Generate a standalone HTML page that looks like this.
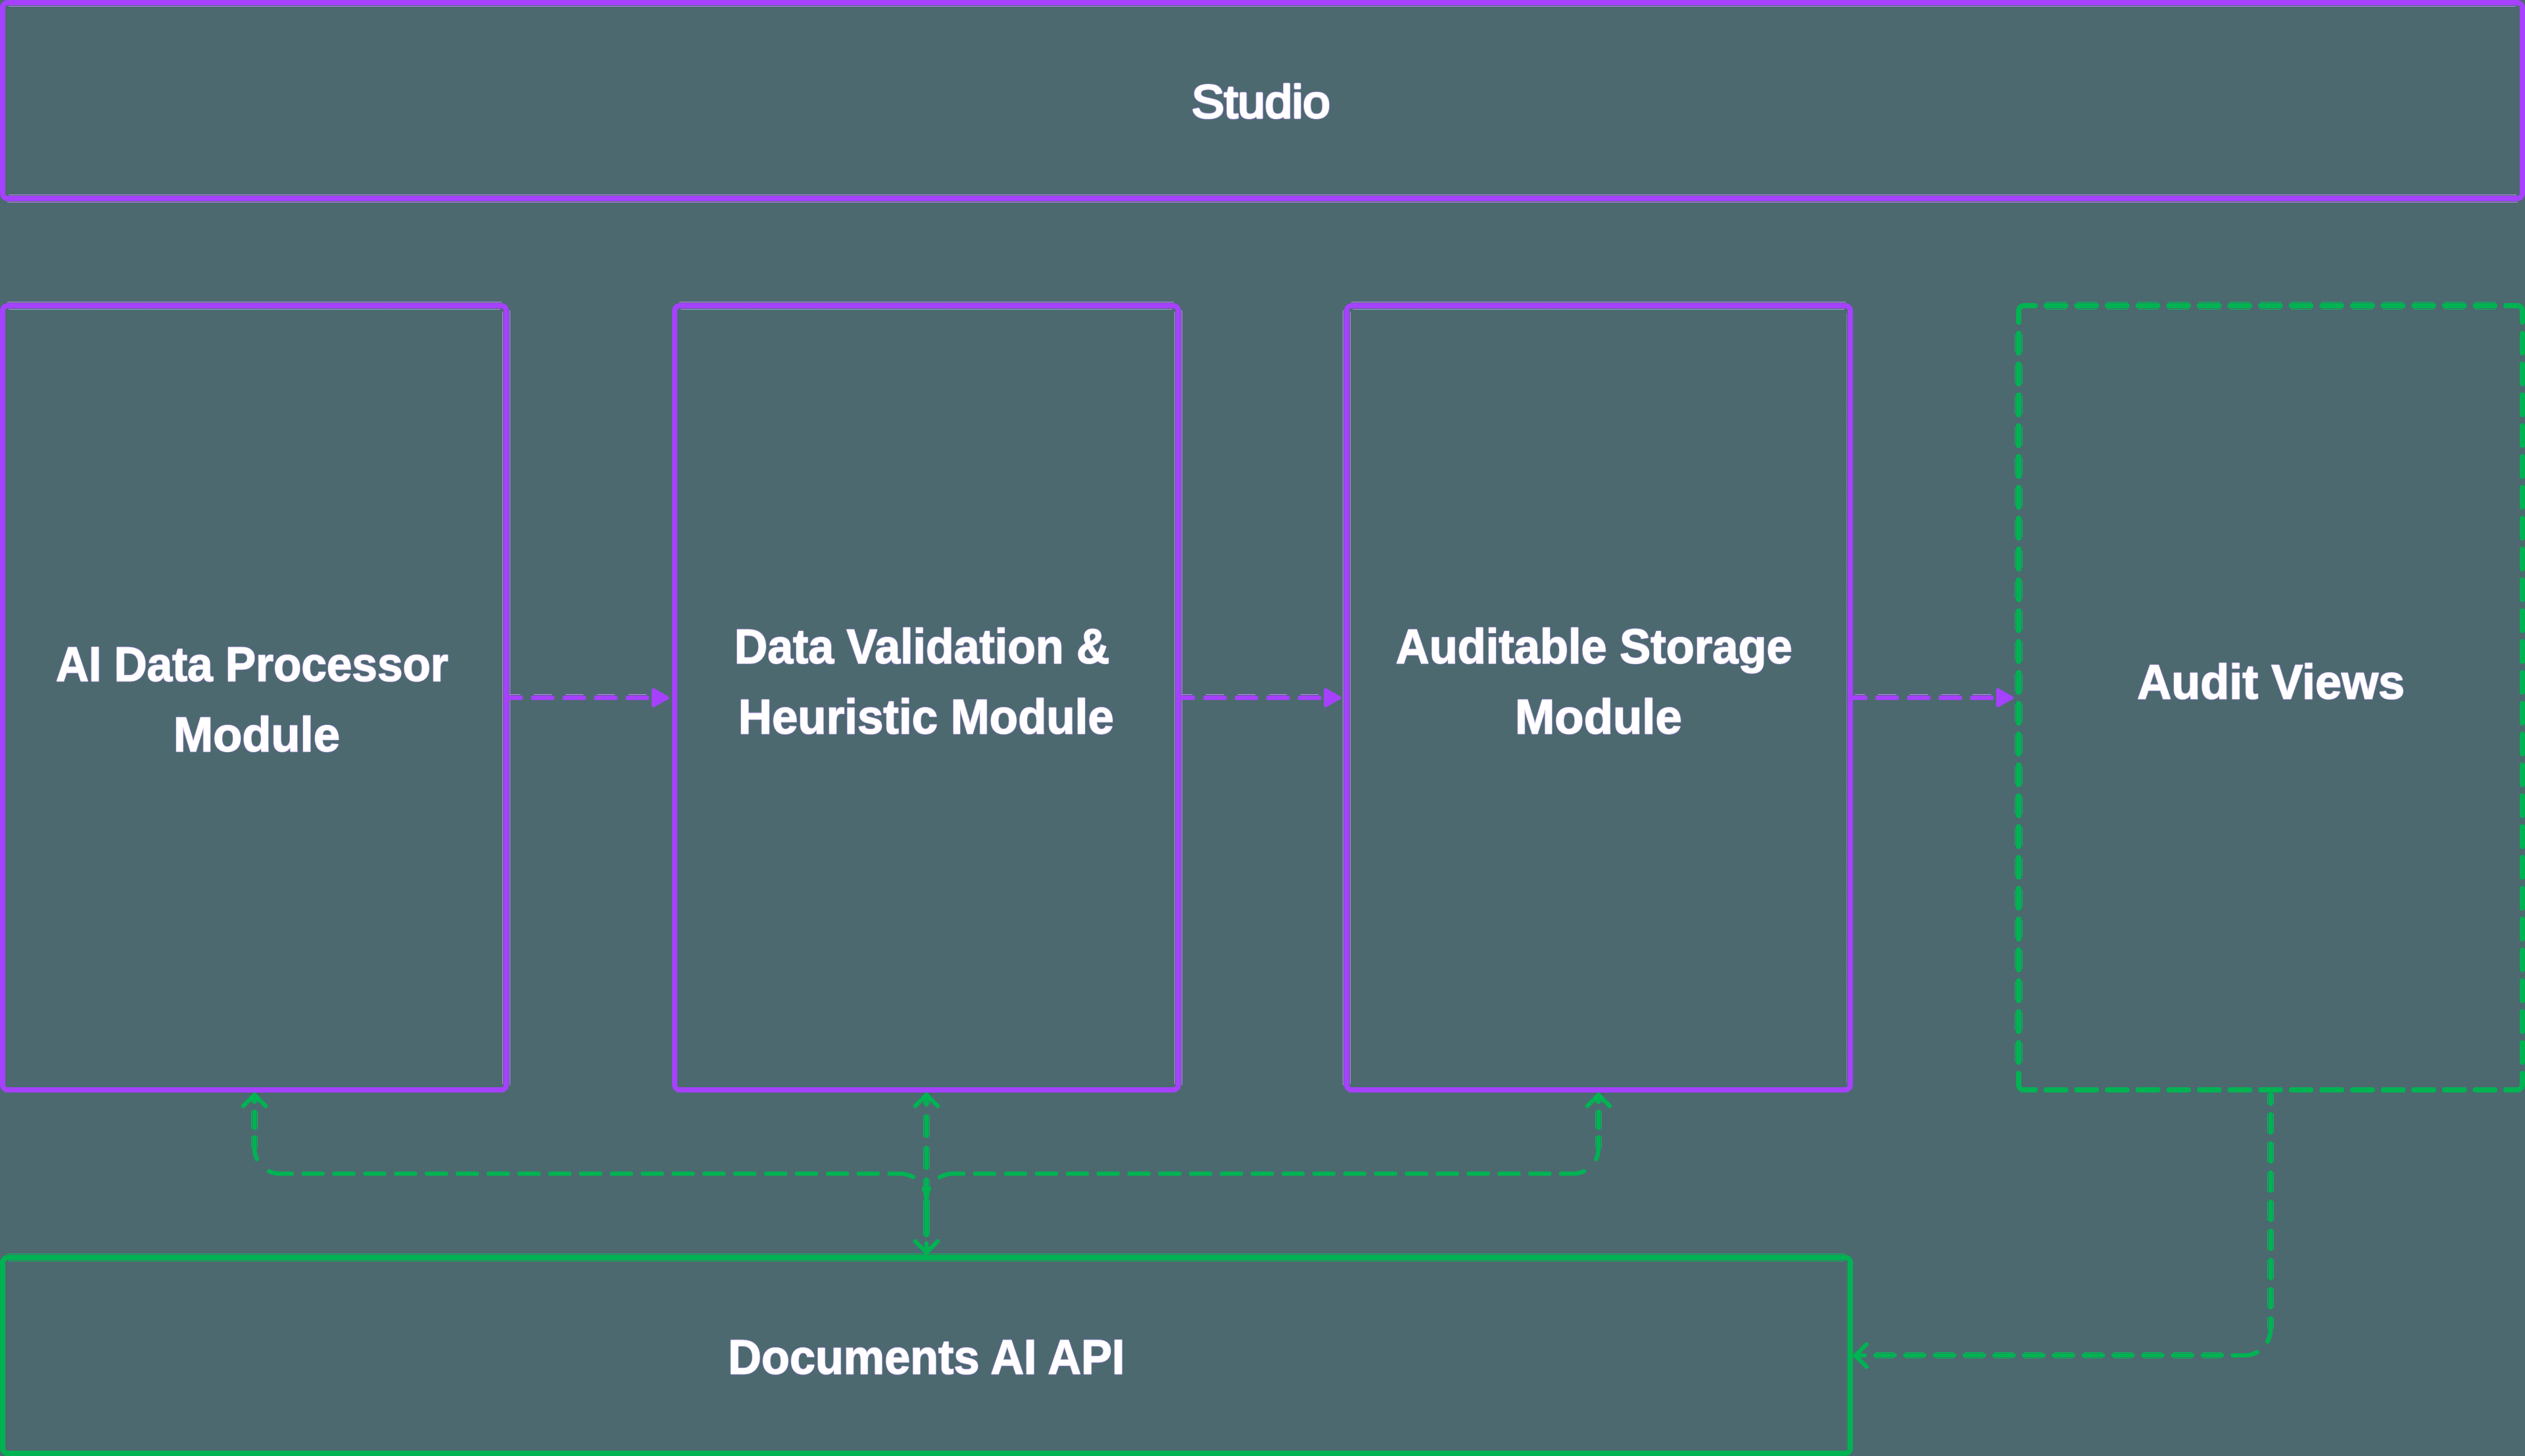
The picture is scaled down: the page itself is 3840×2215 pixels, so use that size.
<!DOCTYPE html>
<html lang="en">
<head>
<meta charset="utf-8">
<title>Architecture diagram</title>
<style>
html,body{margin:0;padding:0;background:#4C6970;}
body{width:3840px;height:2215px;overflow:hidden;position:relative;font-family:"Liberation Sans",sans-serif;}
svg{position:absolute;left:0;top:0;display:block;}
text{font-family:"Liberation Sans",sans-serif;font-size:75px;fill:#fff;}
</style>
</head>
<body>
<svg width="3840" height="2215" viewBox="0 0 3840 2215">
<rect x="0" y="0" width="3840" height="2215" fill="#4C6970"/>
<rect x="4.0" y="4.0" width="3832" height="298" rx="8" ry="8" fill="none" stroke="#A541FF" stroke-width="8"/>
<rect x="4.0" y="465.0" width="766" height="1193" rx="8" ry="8" fill="none" stroke="#A541FF" stroke-width="8"/>
<rect x="1026.0" y="465.0" width="766" height="1193" rx="8" ry="8" fill="none" stroke="#A541FF" stroke-width="8"/>
<rect x="2048.0" y="465.0" width="766" height="1193" rx="8" ry="8" fill="none" stroke="#A541FF" stroke-width="8"/>
<rect x="4.0" y="1913.0" width="2810" height="298" rx="8" ry="8" fill="none" stroke="#00B352" stroke-width="8"/>
<path d="M13,9.5 H3826" stroke="#C283FF" stroke-width="1" />
<path d="M13,296.5 H3827" stroke="#C283FF" stroke-width="1" />
<path d="M11,307.5 H3829" stroke="#C283FF" stroke-width="1" />
<path d="M11,459.5 H763" stroke="#C283FF" stroke-width="1" />
<path d="M13,470.5 H761" stroke="#C283FF" stroke-width="1" />
<path d="M18,471.5 H757" stroke="#00B352" stroke-width="1" stroke-dasharray="1 2 1 1"/>
<path d="M1033,459.5 H1785" stroke="#C283FF" stroke-width="1" />
<path d="M1035,470.5 H1783" stroke="#C283FF" stroke-width="1" />
<path d="M1040,471.5 H1779" stroke="#00B352" stroke-width="1" stroke-dasharray="1 2 1 1"/>
<path d="M2055,459.5 H2807" stroke="#C283FF" stroke-width="1" />
<path d="M2057,470.5 H2805" stroke="#C283FF" stroke-width="1" />
<path d="M2062,471.5 H2801" stroke="#00B352" stroke-width="1" stroke-dasharray="1 2 1 1"/>
<path d="M764.5,474 V1649" stroke="#C283FF" stroke-width="1" />
<path d="M1786.5,474 V1649" stroke="#C283FF" stroke-width="1" />
<path d="M2053.5,474 V1649" stroke="#C283FF" stroke-width="1" />
<path d="M775.5,472 V1651" stroke="#C283FF" stroke-width="1" />
<path d="M1797.5,472 V1651" stroke="#C283FF" stroke-width="1" />
<path d="M2042.5,472 V1651" stroke="#C283FF" stroke-width="1" />
<path d="M2808.5,477 V1649" stroke="#C283FF" stroke-width="1" stroke-dasharray="1 1"/>
<path d="M11,1907.5 H2807" stroke="#00BE56" stroke-width="1" />
<path d="M13,1918.5 H2805" stroke="#00BE56" stroke-width="1" />
<path d="M2808.5,1922 V2203" stroke="#00BE56" stroke-width="1" stroke-dasharray="1 1"/>
<path d="M3070.0,489.9 V473.0 A8,8 0 0 1 3078.0,465.0 H3094.9" fill="none" stroke="#00B352" stroke-width="8" stroke-linecap="round"/>
<path d="M3836.0,489.9 V473.0 A8,8 0 0 0 3828.0,465.0 H3811.1" fill="none" stroke="#00B352" stroke-width="8" stroke-linecap="round"/>
<path d="M3836.0,1633.1 V1650.0 A8,8 0 0 1 3828.0,1658.0 H3811.1" fill="none" stroke="#00B352" stroke-width="8" stroke-linecap="round"/>
<path d="M3070.0,1633.1 V1650.0 A8,8 0 0 0 3078.0,1658.0 H3094.9" fill="none" stroke="#00B352" stroke-width="8" stroke-linecap="round"/>
<path d="M3111.91,465.0 H3141.51" stroke="#00B352" stroke-width="8" stroke-linecap="round"/>
<path d="M3111,459.5 H3143" stroke="#00BE56" stroke-width="1" />
<path d="M3111,470.5 H3143" stroke="#00BE56" stroke-width="1" />
<path d="M3158.53,465.0 H3188.12" stroke="#00B352" stroke-width="8" stroke-linecap="round"/>
<path d="M3158,459.5 H3189" stroke="#00BE56" stroke-width="1" />
<path d="M3158,470.5 H3189" stroke="#00BE56" stroke-width="1" />
<path d="M3205.14,465.0 H3234.74" stroke="#00B352" stroke-width="8" stroke-linecap="round"/>
<path d="M3204,459.5 H3236" stroke="#00BE56" stroke-width="1" />
<path d="M3204,470.5 H3236" stroke="#00BE56" stroke-width="1" />
<path d="M3251.75,465.0 H3281.35" stroke="#00B352" stroke-width="8" stroke-linecap="round"/>
<path d="M3251,459.5 H3282" stroke="#00BE56" stroke-width="1" />
<path d="M3251,470.5 H3282" stroke="#00BE56" stroke-width="1" />
<path d="M3298.36,465.0 H3327.96" stroke="#00B352" stroke-width="8" stroke-linecap="round"/>
<path d="M3297,459.5 H3329" stroke="#00BE56" stroke-width="1" />
<path d="M3297,470.5 H3329" stroke="#00BE56" stroke-width="1" />
<path d="M3344.97,465.0 H3374.57" stroke="#00B352" stroke-width="8" stroke-linecap="round"/>
<path d="M3344,459.5 H3376" stroke="#00BE56" stroke-width="1" />
<path d="M3344,470.5 H3376" stroke="#00BE56" stroke-width="1" />
<path d="M3391.59,465.0 H3421.19" stroke="#00B352" stroke-width="8" stroke-linecap="round"/>
<path d="M3391,459.5 H3422" stroke="#00BE56" stroke-width="1" />
<path d="M3391,470.5 H3422" stroke="#00BE56" stroke-width="1" />
<path d="M3438.20,465.0 H3467.80" stroke="#00B352" stroke-width="8" stroke-linecap="round"/>
<path d="M3437,459.5 H3469" stroke="#00BE56" stroke-width="1" />
<path d="M3437,470.5 H3469" stroke="#00BE56" stroke-width="1" />
<path d="M3484.81,465.0 H3514.41" stroke="#00B352" stroke-width="8" stroke-linecap="round"/>
<path d="M3484,459.5 H3515" stroke="#00BE56" stroke-width="1" />
<path d="M3484,470.5 H3515" stroke="#00BE56" stroke-width="1" />
<path d="M3531.42,465.0 H3561.02" stroke="#00B352" stroke-width="8" stroke-linecap="round"/>
<path d="M3530,459.5 H3562" stroke="#00BE56" stroke-width="1" />
<path d="M3530,470.5 H3562" stroke="#00BE56" stroke-width="1" />
<path d="M3578.04,465.0 H3607.64" stroke="#00B352" stroke-width="8" stroke-linecap="round"/>
<path d="M3577,459.5 H3609" stroke="#00BE56" stroke-width="1" />
<path d="M3577,470.5 H3609" stroke="#00BE56" stroke-width="1" />
<path d="M3624.65,465.0 H3654.25" stroke="#00B352" stroke-width="8" stroke-linecap="round"/>
<path d="M3624,459.5 H3655" stroke="#00BE56" stroke-width="1" />
<path d="M3624,470.5 H3655" stroke="#00BE56" stroke-width="1" />
<path d="M3671.26,465.0 H3700.86" stroke="#00B352" stroke-width="8" stroke-linecap="round"/>
<path d="M3670,459.5 H3702" stroke="#00BE56" stroke-width="1" />
<path d="M3670,470.5 H3702" stroke="#00BE56" stroke-width="1" />
<path d="M3717.88,465.0 H3747.47" stroke="#00B352" stroke-width="8" stroke-linecap="round"/>
<path d="M3717,459.5 H3748" stroke="#00BE56" stroke-width="1" />
<path d="M3717,470.5 H3748" stroke="#00BE56" stroke-width="1" />
<path d="M3764.49,465.0 H3794.09" stroke="#00B352" stroke-width="8" stroke-linecap="round"/>
<path d="M3763,459.5 H3795" stroke="#00BE56" stroke-width="1" />
<path d="M3763,470.5 H3795" stroke="#00BE56" stroke-width="1" />
<path d="M3111.91,1658.0 H3141.51" stroke="#00B352" stroke-width="8" stroke-linecap="round"/>
<path d="M3158.53,1658.0 H3188.12" stroke="#00B352" stroke-width="8" stroke-linecap="round"/>
<path d="M3205.14,1658.0 H3234.74" stroke="#00B352" stroke-width="8" stroke-linecap="round"/>
<path d="M3251.75,1658.0 H3281.35" stroke="#00B352" stroke-width="8" stroke-linecap="round"/>
<path d="M3298.36,1658.0 H3327.96" stroke="#00B352" stroke-width="8" stroke-linecap="round"/>
<path d="M3344.97,1658.0 H3374.57" stroke="#00B352" stroke-width="8" stroke-linecap="round"/>
<path d="M3391.59,1658.0 H3421.19" stroke="#00B352" stroke-width="8" stroke-linecap="round"/>
<path d="M3438.20,1658.0 H3467.80" stroke="#00B352" stroke-width="8" stroke-linecap="round"/>
<path d="M3484.81,1658.0 H3514.41" stroke="#00B352" stroke-width="8" stroke-linecap="round"/>
<path d="M3531.42,1658.0 H3561.02" stroke="#00B352" stroke-width="8" stroke-linecap="round"/>
<path d="M3578.04,1658.0 H3607.64" stroke="#00B352" stroke-width="8" stroke-linecap="round"/>
<path d="M3624.65,1658.0 H3654.25" stroke="#00B352" stroke-width="8" stroke-linecap="round"/>
<path d="M3671.26,1658.0 H3700.86" stroke="#00B352" stroke-width="8" stroke-linecap="round"/>
<path d="M3717.88,1658.0 H3747.47" stroke="#00B352" stroke-width="8" stroke-linecap="round"/>
<path d="M3764.49,1658.0 H3794.09" stroke="#00B352" stroke-width="8" stroke-linecap="round"/>
<path d="M3070.0,507.21 V536.81" stroke="#00B352" stroke-width="8" stroke-linecap="round"/>
<path d="M3064.5,508 V536" stroke="#00BE56" stroke-width="1" />
<path d="M3075.5,508 V536" stroke="#00BE56" stroke-width="1" />
<path d="M3070.0,554.12 V583.72" stroke="#00B352" stroke-width="8" stroke-linecap="round"/>
<path d="M3064.5,555 V583" stroke="#00BE56" stroke-width="1" />
<path d="M3075.5,555 V583" stroke="#00BE56" stroke-width="1" />
<path d="M3070.0,601.04 V630.64" stroke="#00B352" stroke-width="8" stroke-linecap="round"/>
<path d="M3064.5,602 V630" stroke="#00BE56" stroke-width="1" />
<path d="M3075.5,602 V630" stroke="#00BE56" stroke-width="1" />
<path d="M3070.0,647.95 V677.55" stroke="#00B352" stroke-width="8" stroke-linecap="round"/>
<path d="M3064.5,649 V677" stroke="#00BE56" stroke-width="1" />
<path d="M3075.5,649 V677" stroke="#00BE56" stroke-width="1" />
<path d="M3070.0,694.86 V724.46" stroke="#00B352" stroke-width="8" stroke-linecap="round"/>
<path d="M3064.5,696 V723" stroke="#00BE56" stroke-width="1" />
<path d="M3075.5,696 V723" stroke="#00BE56" stroke-width="1" />
<path d="M3070.0,741.77 V771.37" stroke="#00B352" stroke-width="8" stroke-linecap="round"/>
<path d="M3064.5,743 V770" stroke="#00BE56" stroke-width="1" />
<path d="M3075.5,743 V770" stroke="#00BE56" stroke-width="1" />
<path d="M3070.0,788.68 V818.28" stroke="#00B352" stroke-width="8" stroke-linecap="round"/>
<path d="M3064.5,790 V817" stroke="#00BE56" stroke-width="1" />
<path d="M3075.5,790 V817" stroke="#00BE56" stroke-width="1" />
<path d="M3070.0,835.60 V865.20" stroke="#00B352" stroke-width="8" stroke-linecap="round"/>
<path d="M3064.5,837 V864" stroke="#00BE56" stroke-width="1" />
<path d="M3075.5,837 V864" stroke="#00BE56" stroke-width="1" />
<path d="M3070.0,882.51 V912.11" stroke="#00B352" stroke-width="8" stroke-linecap="round"/>
<path d="M3064.5,884 V911" stroke="#00BE56" stroke-width="1" />
<path d="M3075.5,884 V911" stroke="#00BE56" stroke-width="1" />
<path d="M3070.0,929.42 V959.02" stroke="#00B352" stroke-width="8" stroke-linecap="round"/>
<path d="M3064.5,930 V958" stroke="#00BE56" stroke-width="1" />
<path d="M3075.5,930 V958" stroke="#00BE56" stroke-width="1" />
<path d="M3070.0,976.33 V1005.93" stroke="#00B352" stroke-width="8" stroke-linecap="round"/>
<path d="M3064.5,977 V1005" stroke="#00BE56" stroke-width="1" />
<path d="M3075.5,977 V1005" stroke="#00BE56" stroke-width="1" />
<path d="M3070.0,1023.24 V1052.84" stroke="#00B352" stroke-width="8" stroke-linecap="round"/>
<path d="M3064.5,1024 V1052" stroke="#00BE56" stroke-width="1" />
<path d="M3075.5,1024 V1052" stroke="#00BE56" stroke-width="1" />
<path d="M3070.0,1070.16 V1099.76" stroke="#00B352" stroke-width="8" stroke-linecap="round"/>
<path d="M3064.5,1071 V1099" stroke="#00BE56" stroke-width="1" />
<path d="M3075.5,1071 V1099" stroke="#00BE56" stroke-width="1" />
<path d="M3070.0,1117.07 V1146.67" stroke="#00B352" stroke-width="8" stroke-linecap="round"/>
<path d="M3064.5,1118 V1146" stroke="#00BE56" stroke-width="1" />
<path d="M3075.5,1118 V1146" stroke="#00BE56" stroke-width="1" />
<path d="M3070.0,1163.98 V1193.58" stroke="#00B352" stroke-width="8" stroke-linecap="round"/>
<path d="M3064.5,1165 V1193" stroke="#00BE56" stroke-width="1" />
<path d="M3075.5,1165 V1193" stroke="#00BE56" stroke-width="1" />
<path d="M3070.0,1210.89 V1240.49" stroke="#00B352" stroke-width="8" stroke-linecap="round"/>
<path d="M3064.5,1212 V1239" stroke="#00BE56" stroke-width="1" />
<path d="M3075.5,1212 V1239" stroke="#00BE56" stroke-width="1" />
<path d="M3070.0,1257.80 V1287.40" stroke="#00B352" stroke-width="8" stroke-linecap="round"/>
<path d="M3064.5,1259 V1286" stroke="#00BE56" stroke-width="1" />
<path d="M3075.5,1259 V1286" stroke="#00BE56" stroke-width="1" />
<path d="M3070.0,1304.72 V1334.32" stroke="#00B352" stroke-width="8" stroke-linecap="round"/>
<path d="M3064.5,1306 V1333" stroke="#00BE56" stroke-width="1" />
<path d="M3075.5,1306 V1333" stroke="#00BE56" stroke-width="1" />
<path d="M3070.0,1351.63 V1381.23" stroke="#00B352" stroke-width="8" stroke-linecap="round"/>
<path d="M3064.5,1353 V1380" stroke="#00BE56" stroke-width="1" />
<path d="M3075.5,1353 V1380" stroke="#00BE56" stroke-width="1" />
<path d="M3070.0,1398.54 V1428.14" stroke="#00B352" stroke-width="8" stroke-linecap="round"/>
<path d="M3064.5,1400 V1427" stroke="#00BE56" stroke-width="1" />
<path d="M3075.5,1400 V1427" stroke="#00BE56" stroke-width="1" />
<path d="M3070.0,1445.45 V1475.05" stroke="#00B352" stroke-width="8" stroke-linecap="round"/>
<path d="M3064.5,1446 V1474" stroke="#00BE56" stroke-width="1" />
<path d="M3075.5,1446 V1474" stroke="#00BE56" stroke-width="1" />
<path d="M3070.0,1492.36 V1521.96" stroke="#00B352" stroke-width="8" stroke-linecap="round"/>
<path d="M3064.5,1493 V1521" stroke="#00BE56" stroke-width="1" />
<path d="M3075.5,1493 V1521" stroke="#00BE56" stroke-width="1" />
<path d="M3070.0,1539.28 V1568.88" stroke="#00B352" stroke-width="8" stroke-linecap="round"/>
<path d="M3064.5,1540 V1568" stroke="#00BE56" stroke-width="1" />
<path d="M3075.5,1540 V1568" stroke="#00BE56" stroke-width="1" />
<path d="M3070.0,1586.19 V1615.79" stroke="#00B352" stroke-width="8" stroke-linecap="round"/>
<path d="M3064.5,1587 V1615" stroke="#00BE56" stroke-width="1" />
<path d="M3075.5,1587 V1615" stroke="#00BE56" stroke-width="1" />
<path d="M3836.0,507.21 V536.81" stroke="#00B352" stroke-width="8" stroke-linecap="round"/>
<path d="M3836.0,554.12 V583.72" stroke="#00B352" stroke-width="8" stroke-linecap="round"/>
<path d="M3836.0,601.04 V630.64" stroke="#00B352" stroke-width="8" stroke-linecap="round"/>
<path d="M3836.0,647.95 V677.55" stroke="#00B352" stroke-width="8" stroke-linecap="round"/>
<path d="M3836.0,694.86 V724.46" stroke="#00B352" stroke-width="8" stroke-linecap="round"/>
<path d="M3836.0,741.77 V771.37" stroke="#00B352" stroke-width="8" stroke-linecap="round"/>
<path d="M3836.0,788.68 V818.28" stroke="#00B352" stroke-width="8" stroke-linecap="round"/>
<path d="M3836.0,835.60 V865.20" stroke="#00B352" stroke-width="8" stroke-linecap="round"/>
<path d="M3836.0,882.51 V912.11" stroke="#00B352" stroke-width="8" stroke-linecap="round"/>
<path d="M3836.0,929.42 V959.02" stroke="#00B352" stroke-width="8" stroke-linecap="round"/>
<path d="M3836.0,976.33 V1005.93" stroke="#00B352" stroke-width="8" stroke-linecap="round"/>
<path d="M3836.0,1023.24 V1052.84" stroke="#00B352" stroke-width="8" stroke-linecap="round"/>
<path d="M3836.0,1070.16 V1099.76" stroke="#00B352" stroke-width="8" stroke-linecap="round"/>
<path d="M3836.0,1117.07 V1146.67" stroke="#00B352" stroke-width="8" stroke-linecap="round"/>
<path d="M3836.0,1163.98 V1193.58" stroke="#00B352" stroke-width="8" stroke-linecap="round"/>
<path d="M3836.0,1210.89 V1240.49" stroke="#00B352" stroke-width="8" stroke-linecap="round"/>
<path d="M3836.0,1257.80 V1287.40" stroke="#00B352" stroke-width="8" stroke-linecap="round"/>
<path d="M3836.0,1304.72 V1334.32" stroke="#00B352" stroke-width="8" stroke-linecap="round"/>
<path d="M3836.0,1351.63 V1381.23" stroke="#00B352" stroke-width="8" stroke-linecap="round"/>
<path d="M3836.0,1398.54 V1428.14" stroke="#00B352" stroke-width="8" stroke-linecap="round"/>
<path d="M3836.0,1445.45 V1475.05" stroke="#00B352" stroke-width="8" stroke-linecap="round"/>
<path d="M3836.0,1492.36 V1521.96" stroke="#00B352" stroke-width="8" stroke-linecap="round"/>
<path d="M3836.0,1539.28 V1568.88" stroke="#00B352" stroke-width="8" stroke-linecap="round"/>
<path d="M3836.0,1586.19 V1615.79" stroke="#00B352" stroke-width="8" stroke-linecap="round"/>
<path d="M771.0,1061.5 H791.8" stroke="#A541FF" stroke-width="7" stroke-linecap="round"/>
<path d="M776,1056.5 H791" stroke="#C283FF" stroke-width="1" />
<path d="M810.8,1061.5 H839.8" stroke="#A541FF" stroke-width="7" stroke-linecap="round"/>
<path d="M812,1056.5 H839" stroke="#C283FF" stroke-width="1" />
<path d="M858.8,1061.5 H887.8" stroke="#A541FF" stroke-width="7" stroke-linecap="round"/>
<path d="M860,1056.5 H887" stroke="#C283FF" stroke-width="1" />
<path d="M906.8,1061.5 H935.8" stroke="#A541FF" stroke-width="7" stroke-linecap="round"/>
<path d="M908,1056.5 H935" stroke="#C283FF" stroke-width="1" />
<path d="M954.8,1061.5 H983.8" stroke="#A541FF" stroke-width="7" stroke-linecap="round"/>
<path d="M956,1056.5 H983" stroke="#C283FF" stroke-width="1" />
<path d="M993.5,1049.5 L1014.8,1061.5 L993.5,1073.5 Z" fill="#A541FF" stroke="#A541FF" stroke-width="5" stroke-linejoin="round"/>
<path d="M1793.3,1061.5 H1814.1" stroke="#A541FF" stroke-width="7" stroke-linecap="round"/>
<path d="M1798,1056.5 H1813" stroke="#C283FF" stroke-width="1" />
<path d="M1833.1,1061.5 H1862.1" stroke="#A541FF" stroke-width="7" stroke-linecap="round"/>
<path d="M1834,1056.5 H1861" stroke="#C283FF" stroke-width="1" />
<path d="M1881.1,1061.5 H1910.1" stroke="#A541FF" stroke-width="7" stroke-linecap="round"/>
<path d="M1882,1056.5 H1909" stroke="#C283FF" stroke-width="1" />
<path d="M1929.1,1061.5 H1958.1" stroke="#A541FF" stroke-width="7" stroke-linecap="round"/>
<path d="M1930,1056.5 H1957" stroke="#C283FF" stroke-width="1" />
<path d="M1977.1,1061.5 H2006.1" stroke="#A541FF" stroke-width="7" stroke-linecap="round"/>
<path d="M1978,1056.5 H2005" stroke="#C283FF" stroke-width="1" />
<path d="M2015.8,1049.5 L2037.1,1061.5 L2015.8,1073.5 Z" fill="#A541FF" stroke="#A541FF" stroke-width="5" stroke-linejoin="round"/>
<path d="M2815.7,1061.5 H2836.5" stroke="#A541FF" stroke-width="7" stroke-linecap="round"/>
<path d="M2821,1056.5 H2836" stroke="#C283FF" stroke-width="1" />
<path d="M2855.5,1061.5 H2884.5" stroke="#A541FF" stroke-width="7" stroke-linecap="round"/>
<path d="M2856,1056.5 H2884" stroke="#C283FF" stroke-width="1" />
<path d="M2903.5,1061.5 H2932.5" stroke="#A541FF" stroke-width="7" stroke-linecap="round"/>
<path d="M2904,1056.5 H2932" stroke="#C283FF" stroke-width="1" />
<path d="M2951.5,1061.5 H2980.5" stroke="#A541FF" stroke-width="7" stroke-linecap="round"/>
<path d="M2952,1056.5 H2980" stroke="#C283FF" stroke-width="1" />
<path d="M2999.5,1061.5 H3028.5" stroke="#A541FF" stroke-width="7" stroke-linecap="round"/>
<path d="M3000,1056.5 H3028" stroke="#C283FF" stroke-width="1" />
<path d="M3038.2,1049.5 L3059.5,1061.5 L3038.2,1073.5 Z" fill="#A541FF" stroke="#A541FF" stroke-width="5" stroke-linejoin="round"/>
<path d="M1392,1682.5 L1409,1665.5 L1426,1682.5" fill="none" stroke="#00B352" stroke-width="6.5" stroke-linecap="round" stroke-linejoin="round" />
<path d="M1392,1888.5 L1409,1905.5 L1426,1888.5" fill="none" stroke="#00B352" stroke-width="6.5" stroke-linecap="round" stroke-linejoin="round" />
<path d="M1409,1665.50 V1680.15" fill="none" stroke="#00B352" stroke-width="6.5" stroke-linecap="round" stroke-linejoin="round" />
<path d="M1409,1698.15 V1727.95" fill="none" stroke="#00B352" stroke-width="6.5" stroke-linecap="round" stroke-linejoin="round" />
<path d="M1409,1746.15 V1776.85" fill="none" stroke="#00B352" stroke-width="6.5" stroke-linecap="round" stroke-linejoin="round" />
<path d="M1409,1794.35 V1878.55" fill="none" stroke="#00B352" stroke-width="6.5" stroke-linecap="round" stroke-linejoin="round" />
<path d="M1409,1891.85 V1905.50" fill="none" stroke="#00B352" stroke-width="6.5" stroke-linecap="round" stroke-linejoin="round" />
<path d="M387,1665.5 V1747.0 A38.5,38.5 0 0 0 425.5,1785.5 H1369 A40,40 0 0 1 1409,1825.5 V1885" fill="none" stroke="#00B352" stroke-width="6.5" stroke-linecap="round" stroke-linejoin="round" stroke-dasharray="10.85 14.90 24.40 14.60 33.55 26.54 35.38 17.80 29.10 17.80 29.10 17.80 29.10 17.80 29.10 17.80 29.10 17.80 29.10 17.80 29.10 17.80 29.10 17.80 29.10 17.80 29.10 17.80 29.10 17.80 29.10 17.80 29.10 17.80 29.10 17.80 29.10 17.80 29.10 17.80 29.10 17.80 29.10 17.80 29.10 17.80 36.85 24.00 71.38 100000.00"/>
<path d="M370,1682.5 L387,1665.5 L404,1682.5" fill="none" stroke="#00B352" stroke-width="6.5" stroke-linecap="round" stroke-linejoin="round" />
<path d="M2431,1665.5 V1747.0 A38.5,38.5 0 0 1 2392.5,1785.5 H1449 A40,40 0 0 0 1409,1825.5 V1885" fill="none" stroke="#00B352" stroke-width="6.5" stroke-linecap="round" stroke-linejoin="round" stroke-dasharray="10.85 14.90 24.40 14.60 33.55 26.54 35.38 17.80 29.10 17.80 29.10 17.80 29.10 17.80 29.10 17.80 29.10 17.80 29.10 17.80 29.10 17.80 29.10 17.80 29.10 17.80 29.10 17.80 29.10 17.80 29.10 17.80 29.10 17.80 29.10 17.80 29.10 17.80 29.10 17.80 29.10 17.80 29.10 17.80 29.10 17.80 36.85 24.00 71.38 100000.00"/>
<path d="M2414,1682.5 L2431,1665.5 L2448,1682.5" fill="none" stroke="#00B352" stroke-width="6.5" stroke-linecap="round" stroke-linejoin="round" />
<path d="M3453.2,1662 V2022.1 A40,40 0 0 1 3413.2,2062.1 H2821.5" fill="none" stroke="#00B352" stroke-width="6.5" stroke-linecap="round" stroke-linejoin="round" stroke-dasharray="17.05 16.10 27.50 16.86 27.50 16.86 27.50 16.86 27.50 16.86 27.50 16.86 27.50 16.86 27.50 16.84 36.00 23.04 37.60 16.64 29.00 16.26 29.00 16.26 29.00 16.26 29.00 16.26 29.00 16.26 29.00 16.26 29.00 16.26 29.00 16.26 29.00 16.26 29.00 16.26 29.00 16.26 29.00 16.60 14.25 100000.00"/>
<path d="M2838.5,2045.2999999999997 L2821.5,2062.2999999999997 L2838.5,2079.2999999999997" fill="none" stroke="#00B352" stroke-width="6.5" stroke-linecap="round" stroke-linejoin="round" />
<path d="M1404.5,1667 V1680" stroke="#00BE56" stroke-width="1" />
<path d="M1413.5,1667 V1680" stroke="#00BE56" stroke-width="1" />
<path d="M1404.5,1697 V1729" stroke="#00BE56" stroke-width="1" />
<path d="M1413.5,1697 V1729" stroke="#00BE56" stroke-width="1" />
<path d="M1404.5,1745 V1778" stroke="#00BE56" stroke-width="1" />
<path d="M1413.5,1745 V1778" stroke="#00BE56" stroke-width="1" />
<path d="M1404.5,1794 V1804" stroke="#00BE56" stroke-width="1" />
<path d="M1413.5,1794 V1804" stroke="#00BE56" stroke-width="1" />
<path d="M1404.5,1826 V1879" stroke="#00BE56" stroke-width="1" />
<path d="M1413.5,1826 V1879" stroke="#00BE56" stroke-width="1" />
<path d="M382.5,1667 V1677" stroke="#00BE56" stroke-width="1" />
<path d="M391.5,1667 V1677" stroke="#00BE56" stroke-width="1" />
<path d="M382.5,1690 V1717" stroke="#00BE56" stroke-width="1" />
<path d="M391.5,1690 V1717" stroke="#00BE56" stroke-width="1" />
<path d="M382.5,1729 V1746" stroke="#00BE56" stroke-width="1" />
<path d="M391.5,1729 V1746" stroke="#00BE56" stroke-width="1" />
<path d="M2426.5,1667 V1677" stroke="#00BE56" stroke-width="1" />
<path d="M2435.5,1667 V1677" stroke="#00BE56" stroke-width="1" />
<path d="M2426.5,1690 V1717" stroke="#00BE56" stroke-width="1" />
<path d="M2435.5,1690 V1717" stroke="#00BE56" stroke-width="1" />
<path d="M2426.5,1729 V1746" stroke="#00BE56" stroke-width="1" />
<path d="M2435.5,1729 V1746" stroke="#00BE56" stroke-width="1" />
<path d="M3448.5,1664 V1680" stroke="#00BE56" stroke-width="1" />
<path d="M3457.5,1664 V1680" stroke="#00BE56" stroke-width="1" />
<path d="M3448.5,1694 V1724" stroke="#00BE56" stroke-width="1" />
<path d="M3457.5,1694 V1724" stroke="#00BE56" stroke-width="1" />
<path d="M3448.5,1738 V1768" stroke="#00BE56" stroke-width="1" />
<path d="M3457.5,1738 V1768" stroke="#00BE56" stroke-width="1" />
<path d="M3448.5,1783 V1813" stroke="#00BE56" stroke-width="1" />
<path d="M3457.5,1783 V1813" stroke="#00BE56" stroke-width="1" />
<path d="M3448.5,1827 V1857" stroke="#00BE56" stroke-width="1" />
<path d="M3457.5,1827 V1857" stroke="#00BE56" stroke-width="1" />
<path d="M3448.5,1871 V1901" stroke="#00BE56" stroke-width="1" />
<path d="M3457.5,1871 V1901" stroke="#00BE56" stroke-width="1" />
<path d="M3448.5,1916 V1946" stroke="#00BE56" stroke-width="1" />
<path d="M3457.5,1916 V1946" stroke="#00BE56" stroke-width="1" />
<path d="M3448.5,1960 V1990" stroke="#00BE56" stroke-width="1" />
<path d="M3457.5,1960 V1990" stroke="#00BE56" stroke-width="1" />
<path d="M3448.5,2004 V2022" stroke="#00BE56" stroke-width="1" />
<path d="M3457.5,2004 V2022" stroke="#00BE56" stroke-width="1" />
<path d="M2852,2057.5 H2881" stroke="#00BE56" stroke-width="1" />
<path d="M2853,2066.5 H2880" stroke="#00BE56" stroke-width="1" stroke-dasharray="2 1"/>
<path d="M2897,2057.5 H2926" stroke="#00BE56" stroke-width="1" />
<path d="M2898,2066.5 H2925" stroke="#00BE56" stroke-width="1" stroke-dasharray="2 1"/>
<path d="M2943,2057.5 H2972" stroke="#00BE56" stroke-width="1" />
<path d="M2944,2066.5 H2971" stroke="#00BE56" stroke-width="1" stroke-dasharray="2 1"/>
<path d="M2988,2057.5 H3017" stroke="#00BE56" stroke-width="1" />
<path d="M2989,2066.5 H3016" stroke="#00BE56" stroke-width="1" stroke-dasharray="2 1"/>
<path d="M3033,2057.5 H3062" stroke="#00BE56" stroke-width="1" />
<path d="M3034,2066.5 H3061" stroke="#00BE56" stroke-width="1" stroke-dasharray="2 1"/>
<path d="M3078,2057.5 H3107" stroke="#00BE56" stroke-width="1" />
<path d="M3079,2066.5 H3106" stroke="#00BE56" stroke-width="1" stroke-dasharray="2 1"/>
<path d="M3124,2057.5 H3153" stroke="#00BE56" stroke-width="1" />
<path d="M3125,2066.5 H3152" stroke="#00BE56" stroke-width="1" stroke-dasharray="2 1"/>
<path d="M3169,2057.5 H3198" stroke="#00BE56" stroke-width="1" />
<path d="M3170,2066.5 H3197" stroke="#00BE56" stroke-width="1" stroke-dasharray="2 1"/>
<path d="M3214,2057.5 H3243" stroke="#00BE56" stroke-width="1" />
<path d="M3215,2066.5 H3242" stroke="#00BE56" stroke-width="1" stroke-dasharray="2 1"/>
<path d="M3259,2057.5 H3288" stroke="#00BE56" stroke-width="1" />
<path d="M3260,2066.5 H3287" stroke="#00BE56" stroke-width="1" stroke-dasharray="2 1"/>
<path d="M3305,2057.5 H3334" stroke="#00BE56" stroke-width="1" />
<path d="M3306,2066.5 H3333" stroke="#00BE56" stroke-width="1" stroke-dasharray="2 1"/>
<path d="M3350,2057.5 H3379" stroke="#00BE56" stroke-width="1" />
<path d="M3351,2066.5 H3378" stroke="#00BE56" stroke-width="1" stroke-dasharray="2 1"/>
<g>
<text x="1917.60" y="179.4" text-anchor="middle" textLength="210.47" lengthAdjust="spacingAndGlyphs" font-weight="normal" stroke-linejoin="round" style="font-size:70px" fill="#C79AFF" stroke="#C79AFF" stroke-width="4.6" opacity="0.75">Studio</text>
<text id="t0" x="1917.60" y="179.4" text-anchor="middle" textLength="210.47" lengthAdjust="spacingAndGlyphs" font-weight="normal" stroke-linejoin="round" style="font-size:70px" stroke="#fff" stroke-width="3.0">Studio</text>
<text x="383.30" y="1036.3" text-anchor="middle" textLength="596.82" lengthAdjust="spacingAndGlyphs" font-weight="bold" stroke-linejoin="round" fill="#C79AFF" stroke="#C79AFF" stroke-width="2.6" opacity="0.75">AI Data Processor</text>
<text id="t1" x="383.30" y="1036.3" text-anchor="middle" textLength="596.82" lengthAdjust="spacingAndGlyphs" font-weight="bold" stroke-linejoin="round" stroke="#fff" stroke-width="1.0">AI Data Processor</text>
<text x="390.30" y="1142.9" text-anchor="middle" textLength="253.23" lengthAdjust="spacingAndGlyphs" font-weight="bold" stroke-linejoin="round" fill="#C79AFF" stroke="#C79AFF" stroke-width="2.6" opacity="0.75">Module</text>
<text id="t2" x="390.30" y="1142.9" text-anchor="middle" textLength="253.23" lengthAdjust="spacingAndGlyphs" font-weight="bold" stroke-linejoin="round" stroke="#fff" stroke-width="1.0">Module</text>
<text x="1402.10" y="1009.4" text-anchor="middle" textLength="570.69" lengthAdjust="spacingAndGlyphs" font-weight="bold" stroke-linejoin="round" fill="#C79AFF" stroke="#C79AFF" stroke-width="2.6" opacity="0.75">Data Validation &amp;</text>
<text id="t3" x="1402.10" y="1009.4" text-anchor="middle" textLength="570.69" lengthAdjust="spacingAndGlyphs" font-weight="bold" stroke-linejoin="round" stroke="#fff" stroke-width="1.0">Data Validation &amp;</text>
<text x="1408.30" y="1116.0" text-anchor="middle" textLength="571.20" lengthAdjust="spacingAndGlyphs" font-weight="bold" stroke-linejoin="round" fill="#C79AFF" stroke="#C79AFF" stroke-width="2.6" opacity="0.75">Heuristic Module</text>
<text id="t4" x="1408.30" y="1116.0" text-anchor="middle" textLength="571.20" lengthAdjust="spacingAndGlyphs" font-weight="bold" stroke-linejoin="round" stroke="#fff" stroke-width="1.0">Heuristic Module</text>
<text x="2424.20" y="1009.4" text-anchor="middle" textLength="602.83" lengthAdjust="spacingAndGlyphs" font-weight="bold" stroke-linejoin="round" fill="#C79AFF" stroke="#C79AFF" stroke-width="2.6" opacity="0.75">Auditable Storage</text>
<text id="t5" x="2424.20" y="1009.4" text-anchor="middle" textLength="602.83" lengthAdjust="spacingAndGlyphs" font-weight="bold" stroke-linejoin="round" stroke="#fff" stroke-width="1.0">Auditable Storage</text>
<text x="2430.90" y="1116.0" text-anchor="middle" textLength="254.02" lengthAdjust="spacingAndGlyphs" font-weight="bold" stroke-linejoin="round" fill="#C79AFF" stroke="#C79AFF" stroke-width="2.6" opacity="0.75">Module</text>
<text id="t6" x="2430.90" y="1116.0" text-anchor="middle" textLength="254.02" lengthAdjust="spacingAndGlyphs" font-weight="bold" stroke-linejoin="round" stroke="#fff" stroke-width="1.0">Module</text>
<text x="3453.70" y="1063.4" text-anchor="middle" textLength="406.86" lengthAdjust="spacingAndGlyphs" font-weight="bold" stroke-linejoin="round" fill="#C79AFF" stroke="#C79AFF" stroke-width="2.6" opacity="0.75">Audit Views</text>
<text id="t7" x="3453.70" y="1063.4" text-anchor="middle" textLength="406.86" lengthAdjust="spacingAndGlyphs" font-weight="bold" stroke-linejoin="round" stroke="#fff" stroke-width="1.0">Audit Views</text>
<text x="1408.90" y="2090.4" text-anchor="middle" textLength="603.13" lengthAdjust="spacingAndGlyphs" font-weight="bold" stroke-linejoin="round" fill="#C79AFF" stroke="#C79AFF" stroke-width="2.6" opacity="0.75">Documents AI API</text>
<text id="t8" x="1408.90" y="2090.4" text-anchor="middle" textLength="603.13" lengthAdjust="spacingAndGlyphs" font-weight="bold" stroke-linejoin="round" stroke="#fff" stroke-width="1.0">Documents AI API</text>
</g>
</svg>
</body>
</html>
